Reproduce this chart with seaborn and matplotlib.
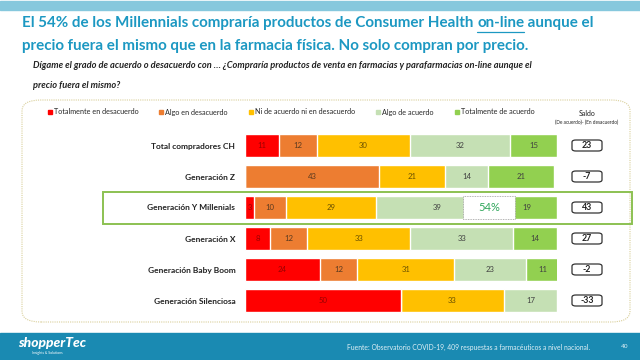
import numpy as np
import pandas as pd
import matplotlib
matplotlib.use("Agg")
import matplotlib.pyplot as plt
import seaborn as sns
from matplotlib.patches import Rectangle, FancyBboxPatch, Patch

# datos
categorias = ["Total compradores CH", "Generación Z", "Generación Y Millenials",
              "Generación X", "Generación Baby Boom", "Generación Silenciosa"]
niveles = ["Totalmente en desacuerdo", "Algo en desacuerdo", "Ni de acuerdo ni en desacuerdo",
           "Algo de acuerdo", "Totalmente de acuerdo"]
tot_desacuerdo = [11, 0, 3, 8, 24, 50]
algo_desacuerdo = [12, 43, 10, 12, 12, 0]
ni_ni = [30, 21, 29, 33, 31, 33]
algo_acuerdo = [32, 14, 39, 33, 23, 17]
tot_acuerdo = [15, 21, 19, 14, 11, 0]
saldo = [23, -7, 43, 27, -2, -33]
destacado = "Generación Y Millenials"
destacado_pct = "54%"

colores = ["#FF0000", "#ED7D31", "#FFC000", "#C5E0B4", "#92D050"]
color_txt = ["#9a0000", "#5a3a20", "#6a5000", "#404040", "#404040"]

sns.set_theme(style="white")
plt.rcParams["font.family"] = ["Lato", "DejaVu Sans"]

df = pd.DataFrame({"cat": categorias, niveles[0]: tot_desacuerdo, niveles[1]: algo_desacuerdo,
                   niveles[2]: ni_ni, niveles[3]: algo_acuerdo, niveles[4]: tot_acuerdo})
acum = df[niveles].cumsum(axis=1)

W, H = 640, 360
fig = plt.figure(figsize=(6.4, 3.6), dpi=100)
fig.patch.set_facecolor("white")

def fx(px):
    return px / W

def fy(py):
    return 1 - py / H

# franjas
fig.patches.append(Rectangle((0, fy(10)), 1, fy(1) - fy(10), transform=fig.transFigure,
                             color="#86c8dd", zorder=0))
fig.patches.append(Rectangle((0, 0), 1, fy(333), transform=fig.transFigure,
                             color="#1a8ab2", zorder=0))

# marco punteado
fig.patches.append(FancyBboxPatch((fx(22), fy(322)), fx(630) - fx(22), fy(100) - fy(322),
                                  boxstyle="round,pad=0,rounding_size=0.03",
                                  transform=fig.transFigure, fc="none", ec="#d9cf9a",
                                  lw=0.8, ls=(0, (1, 1)), zorder=0))

# titulo
t_color = "#1c98c2"
t_size = 10.9
r = fig.canvas.get_renderer()
parts = ["El 54% de los Millennials compraría productos de Consumer Health ", "on-line", " aunque el"]
x = fx(22)
for i, p in enumerate(parts):
    t = fig.text(x, fy(23), p, fontsize=t_size, weight="bold", color=t_color, va="center", ha="left")
    bb = t.get_window_extent(renderer=r)
    if i == 1:
        fig.lines.append(plt.Line2D([bb.x0 / W, bb.x1 / W], [fy(32), fy(32)],
                                    transform=fig.transFigure, color=t_color, lw=0.9))
    x = bb.x1 / W
fig.text(fx(22), fy(46), "precio fuera el mismo que en la farmacia física. No solo compran por precio.",
         fontsize=t_size, weight="bold", color=t_color, va="center", ha="left")

fig.text(fx(33), fy(66), "Dígame el grado de acuerdo o desacuerdo con … ¿Compraría productos de venta en "
         "farmacias y parafarmacias on-line aunque el", fontsize=6.7, style="italic",
         weight="bold", color="#222222", va="center")
fig.text(fx(33), fy(86), "precio fuera el mismo?", fontsize=6.7, style="italic",
         weight="bold", color="#222222", va="center")

# barras
ax = fig.add_axes([fx(245), fy(316), fx(557) - fx(245), fy(130) - fy(316)])
for k in range(len(niveles) - 1, -1, -1):
    sns.barplot(x=acum[niveles[k]], y=df["cat"], order=categorias, orient="h",
                color=colores[k], width=0.77, saturation=1, ax=ax, zorder=2)
ax.set_xlim(0, 100)
ax.set_ylim(len(categorias) - 0.5, -0.5)
ax.set_xlabel("")
ax.set_ylabel("")
ax.set_xticks([])
ax.tick_params(axis="y", length=0, pad=7)
ax.set_yticks(range(len(categorias)))
ax.set_yticklabels(categorias, fontsize=6, weight="bold", color="#222222")
for s in ax.spines.values():
    s.set_visible(False)
ax.patch.set_alpha(0)

for i in range(len(categorias)):
    prev = 0
    for k, n in enumerate(niveles):
        v = df.loc[i, n]
        if v > 0:
            ax.text(prev + v / 2, i, str(v), ha="center", va="center", fontsize=5.6,
                    color=color_txt[k], zorder=4)
        prev += v

# fila destacada
iy = categorias.index(destacado)
ax.add_patch(Rectangle((69.9, iy - 0.36), 16.6, 0.72, fc="white", ec="#9a9a9a",
                       lw=0.6, ls=(0, (1, 1)), zorder=5))
ax.text(78.2, iy, destacado_pct, ha="center", va="center", fontsize=8,
        color="#2ea65a", zorder=6)
fig.canvas.draw()
to_fig = fig.transFigure.inverted()
yc = to_fig.transform(ax.transData.transform((0, iy)))[1]
hh = 16 / H
fig.patches.append(Rectangle((fx(103), yc - hh), fx(632) - fx(103), 2 * hh,
                             transform=fig.transFigure, fc="none", ec="#8cc152", lw=1.4, zorder=5))

# saldo
fig.text(fx(587), fy(114), "Saldo", fontsize=5, ha="center", va="center", color="#222222")
fig.text(fx(587), fy(122), "(De acuerdo)- (En desacuerdo)", fontsize=3.4, ha="center",
         va="center", color="#222222")
bw, bh = 30 / W, 11 / H
for i, v in enumerate(saldo):
    yc = to_fig.transform(ax.transData.transform((0, i)))[1]
    fig.patches.append(FancyBboxPatch((fx(572), yc - bh / 2), bw, bh,
                                      boxstyle="round,pad=0,rounding_size=0.006",
                                      transform=fig.transFigure, fc="white", ec="#333333",
                                      lw=0.9, zorder=3))
    fig.text(fx(587), yc, str(v), fontsize=6.3, weight="bold", ha="center", va="center",
             color="#222222", zorder=4)

# leyenda
handles = [Patch(color=c, label=n) for c, n in zip(colores, niveles)]
fig.legend(handles=handles, loc="center left", bbox_to_anchor=(fx(44), fy(112)), ncol=5,
           frameon=False, fontsize=5.2, handlelength=0.55, handleheight=0.55,
           handletextpad=0.3, columnspacing=2.9, borderpad=0)

# pie
fig.text(fx(18), fy(343), "shopperTec", fontsize=10, weight="black", style="italic",
         color="white", va="center")
fig.text(fx(32), fy(353), "Insights & Solutions", fontsize=2.5, color="white", va="center")
fig.text(fx(590), fy(347), "Fuente: Observatorio COVID-19, 409 respuestas a farmacéuticos a nivel nacional.",
         fontsize=4.9, color="#dff0f6", ha="right", va="center")
fig.text(fx(625), fy(347), "40", fontsize=4.6, color="#dff0f6", ha="center", va="center")

fig.savefig("out.png", dpi=100)
